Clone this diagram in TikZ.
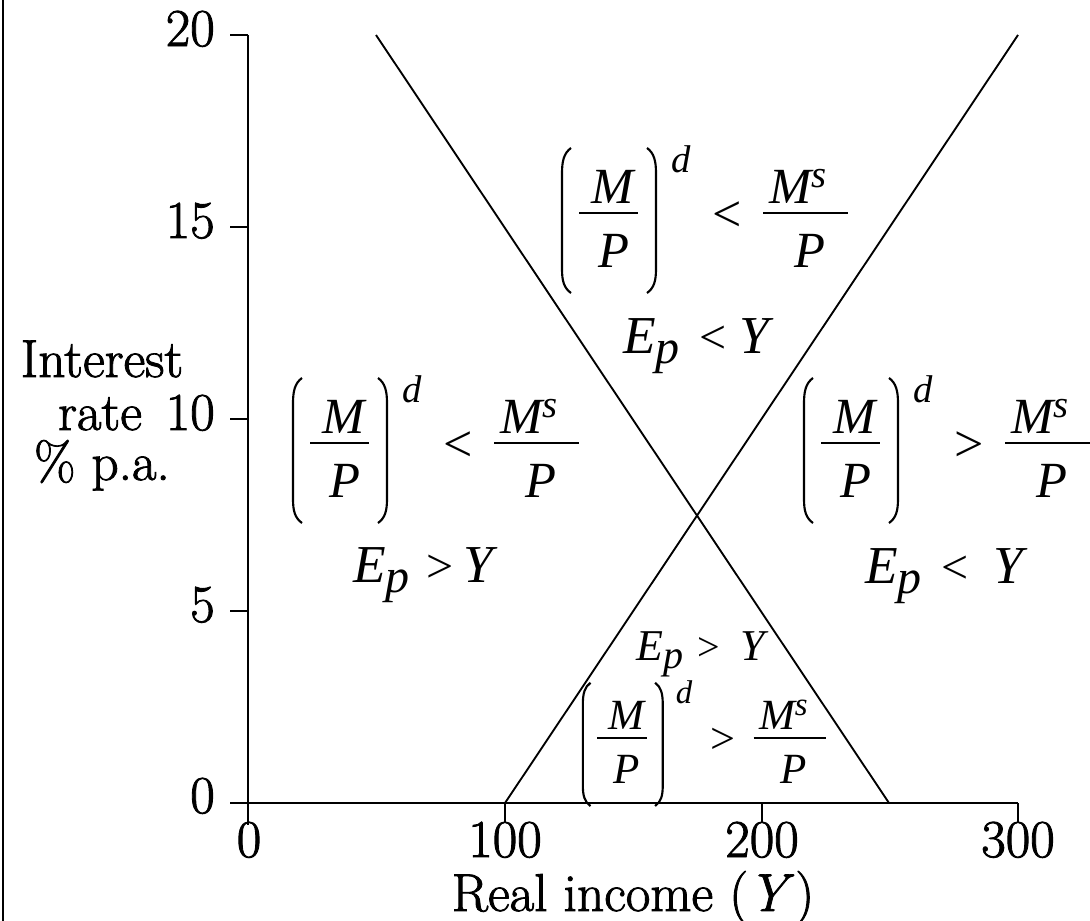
\documentclass[tikz,border=0pt]{standalone}
\usepackage{fontspec}
\newfontfamily\tmr{Liberation Serif}
\newfontfamily\tmit{Liberation Serif Italic}
\newcommand\tmi{\tmit}
\newfontfamily\lab{Latin Modern Roman}[UprightFeatures={FakeBold=1.6}, ItalicFeatures={FakeBold=1.6}]
\tikzset{
  axisline/.style={line width=1.5pt, line cap=butt},
  curve/.style={line width=1.4pt},
  paren/.style={line width=1.6pt},
  fbar/.style={line width=1.4pt},
  lbl/.style={inner sep=0pt, font=\lab\fontsize{40}{40}\selectfont},
  mi/.style={inner sep=0pt},
}
\newcommand\mdgroup[5]{%
  \begin{scope}[shift={(#2,#3)}, scale=#4]
    \pgfmathsetmacro\fbig{38*#4}%
    \pgfmathsetmacro\fsmall{29*#4}%
    \pgfmathsetmacro\frel{39*#4}%
    \pgfmathsetmacro\sraise{12*#4}%
    \draw[paren] (10,-65) .. controls (3,-60) and (1,-52) .. (1,-40) -- (1,56) .. controls (1,68) and (3,75) .. (10,80);
    \draw[paren] (86,-65) .. controls (93,-60) and (95,-52) .. (95,-40) -- (95,56) .. controls (95,68) and (93,75) .. (86,80);
    \draw[fbar] (18,0) -- (77,0);
    \draw[fbar] (202,0) -- (287,0);
    \node[mi, anchor=base, font={\tmi\fontsize{\fbig pt}{\fbig pt}\selectfont}] (#1nM) at (52,-10) {M};
    \node[mi, anchor=base, font={\tmi\fontsize{\fbig pt}{\fbig pt}\selectfont}] (#1nP) at (52.5,54) {P};
    \node[mi, anchor=base west, font={\tmi\fontsize{\fsmall pt}{\fsmall pt}\selectfont}] (#1d) at (110,-41) {d};
    \node[mi, anchor=base west, font={\tmr\fontsize{\frel pt}{\frel pt}\selectfont}] (#1rel) at (151,18) {#5};
    \node[mi, anchor=base west, font={\tmi\fontsize{\fbig pt}{\fbig pt}\selectfont}] (#1sM) at (208,-10) {M\raise\sraise pt\hbox{\fontsize{\fsmall pt}{\fsmall pt}\selectfont s}};
    \node[mi, anchor=base, font={\tmi\fontsize{\fbig pt}{\fbig pt}\selectfont}] (#1sP) at (249,54) {P};
  \end{scope}}
\newcommand\epgroup[9]{% name, Ex, Ey, rel, relx, Yx, size, relsize, lower
  \node[mi, anchor=base west, font={\tmi\fontsize{#7}{#7}\selectfont}] (#1E) at (#2,#3) {E\lower #9\hbox{\fontsize{#8}{#8}\selectfont p}};
  \node[mi, anchor=base west, font={\tmr\fontsize{#8}{#8}\selectfont}] (#1r) at (#5,#3) {#4};
  \node[mi, anchor=base west, font={\tmi\fontsize{#7}{#7}\selectfont}] (#1Y) at (#6,#3) {Y};
}
\begin{document}
\begin{tikzpicture}[x=0.75pt, y=-0.75pt]
  \useasboundingbox (0,0) rectangle (1090,921);
  % left border
  \draw[line width=1.5pt] (3,0) -- (3,921);
  % axes
  \draw[axisline] (248,35) -- (248,825);
  \draw[axisline] (230,803) -- (1018,803);
  \foreach \t in {35,227,419,611,803} \draw[axisline] (230,\t) -- (248,\t);
  \foreach \t in {505,762,1018} \draw[axisline] (\t,803) -- (\t,823);
  % y tick labels
  \node[lbl, anchor=base east] (y20) at (215,46) {20};
  \node[lbl, anchor=base east] (y15) at (215,238) {15};
  \node[lbl, anchor=base east] (y10) at (215,430) {10};
  \node[lbl, anchor=base east] (y5)  at (215,622) {5};
  \node[lbl, anchor=base east] (y0)  at (215,813) {0};
  % x tick labels
  \node[lbl, anchor=base] (x0)   at (249,857) {0};
  \node[lbl, anchor=base] (x100) at (505,857) {100};
  \node[lbl, anchor=base] (x200) at (762,857) {200};
  \node[lbl, anchor=base] (x300) at (1018,857) {300};
  % axis titles
  \node[lbl, anchor=base] (t1) at (102,377) {Interest};
  \node[lbl, anchor=base] (t2) at (100,430) {rate};
  \node[lbl, anchor=base] (t3) at (102,480) {\% p.a.};
  \node[lbl, anchor=base] (xt) at (633,911) {Real income (\textit{Y}\kern1pt)};
  % curves
  \coordinate (LMa) at (376,35);
  \coordinate (LMb) at (889,803);
  \coordinate (ISa) at (505,803);
  \coordinate (ISb) at (1018,35);
  \draw[curve] (LMa) -- (LMb);
  \draw[curve] (ISa) -- (ISb);
  % region labels
  \mdgroup{top}{561}{213}{1}{<}
  \mdgroup{lft}{292}{443}{1}{<}
  \mdgroup{rgt}{803}{443}{1}{>}
  \mdgroup{bot}{582}{738}{0.85}{>}
  \epgroup{etop}{623}{353}{<}{699}{739}{40pt}{36pt}{8pt}
  \epgroup{elft}{353}{582}{>}{426}{463}{40pt}{36pt}{8pt}
  \epgroup{ergt}{865}{583}{<}{941}{993}{40pt}{36pt}{8pt}
  \epgroup{ebot}{636}{660}{>}{697}{740}{33pt}{30pt}{6.5pt}
\end{tikzpicture}
\end{document}
